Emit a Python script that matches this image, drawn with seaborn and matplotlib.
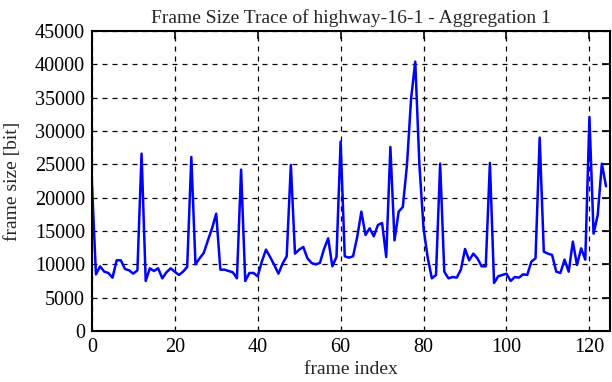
import numpy as np
import pandas as pd
import seaborn as sns
import matplotlib
matplotlib.use("Agg")
import matplotlib.pyplot as plt

# frame sizes in bit (frames 0..124)
frame_size = [
    22600, 8500, 9700, 8900, 8700, 8000, 10600, 10600, 9300, 9100,
    8600, 9100, 26600, 7500, 9400, 9000, 9400, 7900, 8800, 9400,
    8900, 8400, 8900, 9600, 26100, 10000, 10900, 11700, 13600, 15400,
    17600, 9200, 9200, 9000, 8800, 7900, 24200, 7500, 8700, 8700,
    8200, 10400, 12200, 11100, 9900, 8600, 10100, 11200, 24900, 11600,
    12200, 12600, 10900, 10200, 10000, 10200, 12300, 13900, 9700, 11100,
    28400, 11200, 11000, 11200, 14100, 17900, 14400, 15400, 14200, 15900,
    16200, 11100, 27600, 13600, 17900, 18600, 24900, 34900, 40400, 24900,
    15400, 11000, 7900, 8400, 25100, 8900, 7900, 8100, 8000, 9200,
    12300, 10600, 11600, 10900, 9700, 9700, 25200, 7200, 8200, 8400,
    8600, 7500, 8100, 8000, 8500, 8400, 10400, 10900, 29000, 11900,
    11600, 11400, 8900, 8700, 10700, 8900, 13400, 9900, 12400, 10700,
    32100, 14600, 17400, 25100, 21700,
]
frame_index = list(range(len(frame_size)))

x_ticks = [0, 20, 40, 60, 80, 100, 120]
y_ticks = [0, 5000, 10000, 15000, 20000, 25000, 30000, 35000, 40000, 45000]

df = pd.DataFrame({"frame": frame_index, "size": frame_size})

sns.set_style("white")
plt.rcParams["font.family"] = ["Liberation Serif", "DejaVu Serif"]

fig = plt.figure(figsize=(6.12, 3.82), dpi=100)
ax = fig.add_axes([0.150, 0.1335, 0.847, 0.7855])

sns.lineplot(data=df, x="frame", y="size", color="#0000ff", linewidth=1.8, ax=ax)

ax.set_xlim(0, 125)
ax.set_ylim(0, 45000)
ax.set_xticks(x_ticks)
ax.set_yticks(y_ticks)
ax.grid(True, color="black", linestyle=(0, (4, 4)), linewidth=0.9)
ax.tick_params(direction="in", length=6, width=1.2, top=True, right=True,
               labelsize=14.5, colors="black", pad=5)
for s in ax.spines.values():
    s.set_color("black")
    s.set_linewidth(1.5)

ax.set_title("Frame Size Trace of highway-16-1 - Aggregation 1", fontsize=14, pad=6)
ax.set_xlabel("frame index", fontsize=14, labelpad=3)
ax.set_ylabel("frame size [bit]", fontsize=14, labelpad=10)

fig.savefig("out.png", dpi=100)
